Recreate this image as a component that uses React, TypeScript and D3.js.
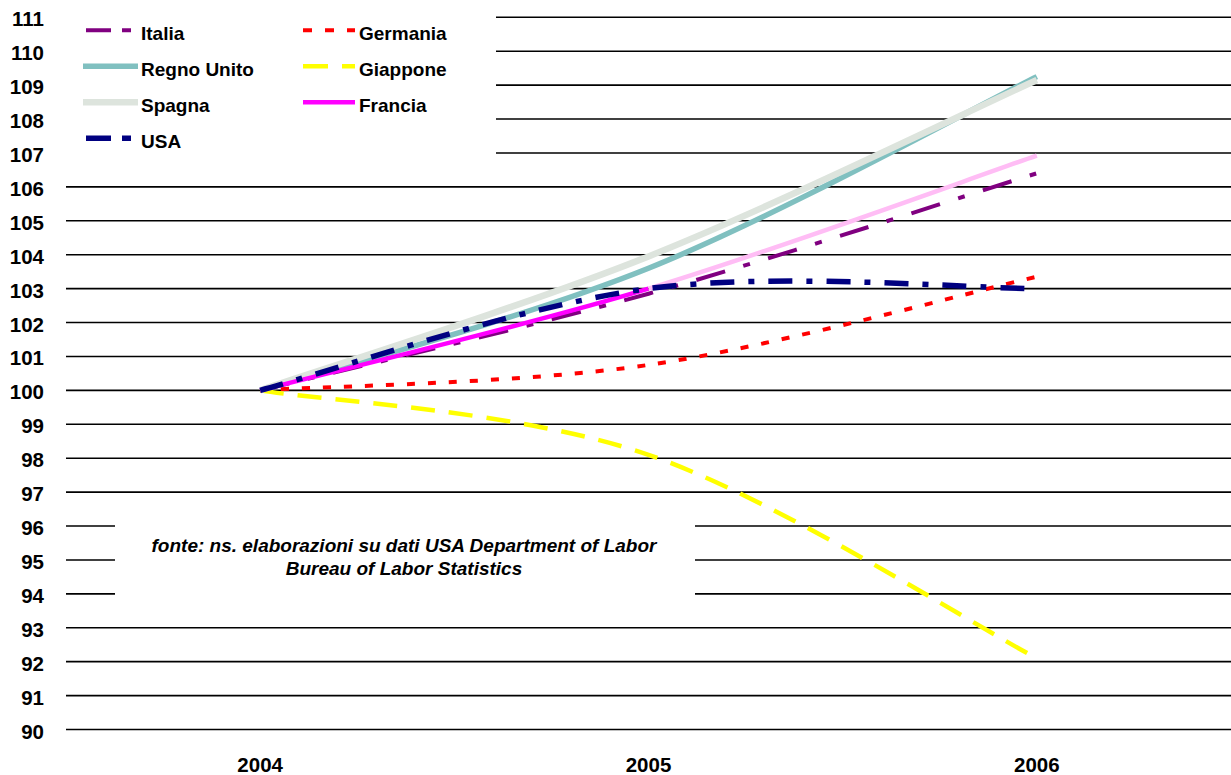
import React from "react";
import * as d3 from "d3";

// ---- data ----
const categories = ["2004", "2005", "2006"];
const yTicks = d3.range(90, 112, 1);

const italia = [100, 102.85, 106.4];
const germania = [100, 100.75, 103.35];
const regnoUnito = [100, 103.6, 109.25];
const giappone = [100, 98.1, 92.1];
const spagna = [100, 103.95, 109.15];
const francia = [100, 103.0, 106.92];
const usa = [100, 103.0, 103.0];

const seriesNames = ["Italia", "Germania", "Regno Unito", "Giappone", "Spagna", "Francia", "USA"];
const seriesValues = [italia, germania, regnoUnito, giappone, spagna, francia, usa];

const sourceLines = [
  "fonte: ns. elaborazioni su dati USA Department of Labor",
  "Bureau of Labor Statistics",
];

// ---- styles ----
type Style = {
  color: string;
  width: number;
  dash?: string;
  legendDash?: string;
  segColors?: string[];
};
const styles: Record<string, Style> = {
  Italia: { color: "#800080", width: 4, dash: "30,19,7,19", legendDash: "25,11,9,11" },
  Germania: { color: "#ff0000", width: 4, dash: "8,13", legendDash: "9,13" },
  "Regno Unito": { color: "#80c0c0", width: 5.5 },
  Giappone: { color: "#ffff00", width: 4.5, dash: "24,14", legendDash: "25,14" },
  Spagna: { color: "#dde4dd", width: 6.5 },
  Francia: { color: "#ff00ff", width: 4.5, segColors: ["#ff00ff", "#ffbdf5"] },
  USA: { color: "#000080", width: 5.5, dash: "24,14,6,14", legendDash: "25,11,9,11" },
};

const W = 1231;
const H = 775;
const FONT = "'Liberation Sans', Arial, Helvetica, sans-serif";

const x = d3.scaleBand<string>().domain(categories).range([66, 1231]).paddingInner(0).paddingOuter(0);
const xc = (c: string) => (x(c) as number) + x.bandwidth() / 2;
const y = d3.scaleLinear().domain([90, 111]).range([729.5, 17.3]);

type P = [number, number];

// Excel-like smoothed line: cubic Bezier with control points at +/- (P[i+1]-P[i-1])/6
function smoothSegments(pts: P[], from: number, to: number): string {
  const n = pts.length;
  const p = d3.path();
  p.moveTo(pts[from][0], pts[from][1]);
  for (let i = from; i < to; i++) {
    const p0 = pts[Math.max(i - 1, 0)];
    const p1 = pts[i];
    const p2 = pts[i + 1];
    const p3 = pts[Math.min(i + 2, n - 1)];
    const c1x = p1[0] + (p2[0] - p0[0]) / 6;
    const c1y = p1[1] + (p2[1] - p0[1]) / 6;
    const c2x = p2[0] - (p3[0] - p1[0]) / 6;
    const c2y = p2[1] - (p3[1] - p1[1]) / 6;
    p.bezierCurveTo(c1x, c1y, c2x, c2y, p2[0], p2[1]);
  }
  return p.toString();
}

const legendCols = [
  { lineX0: 83, lineX1: 138, textX: 141 },
  { lineX0: 303, lineX1: 355, textX: 359 },
];

export default function App() {
  const lines = seriesNames.map((name, si) => {
    const st = styles[name];
    const pts: P[] = seriesValues[si].map((v, i) => [xc(categories[i]), y(v)]);
    if (st.segColors) {
      return (
        <g key={name}>
          {st.segColors.map((c, k) => (
            <path
              key={k}
              d={smoothSegments(pts, k, k + 1)}
              fill="none"
              stroke={c}
              strokeWidth={st.width}
              strokeLinecap="butt"
            />
          ))}
        </g>
      );
    }
    return (
      <path
        key={name}
        d={smoothSegments(pts, 0, pts.length - 1)}
        fill="none"
        stroke={st.color}
        strokeWidth={st.width}
        strokeDasharray={st.dash}
        strokeLinecap="butt"
      />
    );
  });

  // legend order: row-major, two columns
  const legendItems = seriesNames.map((name, i) => {
    const col = i % 2;
    const row = Math.floor(i / 2);
    const base = 40 + row * 36;
    const ly = base - 9.8;
    const c = legendCols[col];
    const st = styles[name];
    const isDashed = !!st.legendDash;
    const lx0 = isDashed && col === 0 ? 86 : c.lineX0;
    return (
      <g key={name}>
        <line
          x1={lx0}
          x2={c.lineX1}
          y1={ly}
          y2={ly}
          stroke={st.color}
          strokeWidth={st.width}
          strokeDasharray={st.legendDash}
        />
        <text x={c.textX} y={base} fontFamily={FONT} fontWeight="bold" fontSize={19} fill="#000">
          {name}
        </text>
      </g>
    );
  });

  return (
    <svg
      width={W}
      height={H}
      viewBox={`0 0 ${W} ${H}`}
      style={{ position: "absolute", left: 0, top: 0, display: "block", background: "#fff" }}
    >
      <rect x={0} y={0} width={W} height={H} fill="#fff" />
      {/* gridlines */}
      {yTicks.map((t) => (
        <line key={t} x1={66} x2={W} y1={y(t)} y2={y(t)} stroke="#000" strokeWidth={1.6} />
      ))}
      {/* y tick labels */}
      {yTicks.map((t) => (
        <text
          key={t}
          x={44}
          y={y(t) + 9}
          textAnchor="end"
          fontFamily={FONT}
          fontWeight="bold"
          fontSize={20.5}
          fill="#000"
        >
          {t}
        </text>
      ))}
      {/* x tick labels */}
      {categories.map((c) => (
        <text
          key={c}
          x={xc(c)}
          y={772}
          textAnchor="middle"
          fontFamily={FONT}
          fontWeight="bold"
          fontSize={20.5}
          fill="#000"
        >
          {c}
        </text>
      ))}
      {/* legend box */}
      <rect x={60} y={0} width={436} height={168} fill="#fff" />
      {legendItems}
      {/* source box */}
      <rect x={115} y={505} width={580} height={103} fill="#fff" />
      {sourceLines.map((s, i) => (
        <text
          key={i}
          x={404}
          y={552 + i * 23}
          textAnchor="middle"
          fontFamily={FONT}
          fontWeight="bold"
          fontStyle="italic"
          fontSize={19}
          fill="#000"
        >
          {s}
        </text>
      ))}
      {/* series */}
      {lines}
    </svg>
  );
}
